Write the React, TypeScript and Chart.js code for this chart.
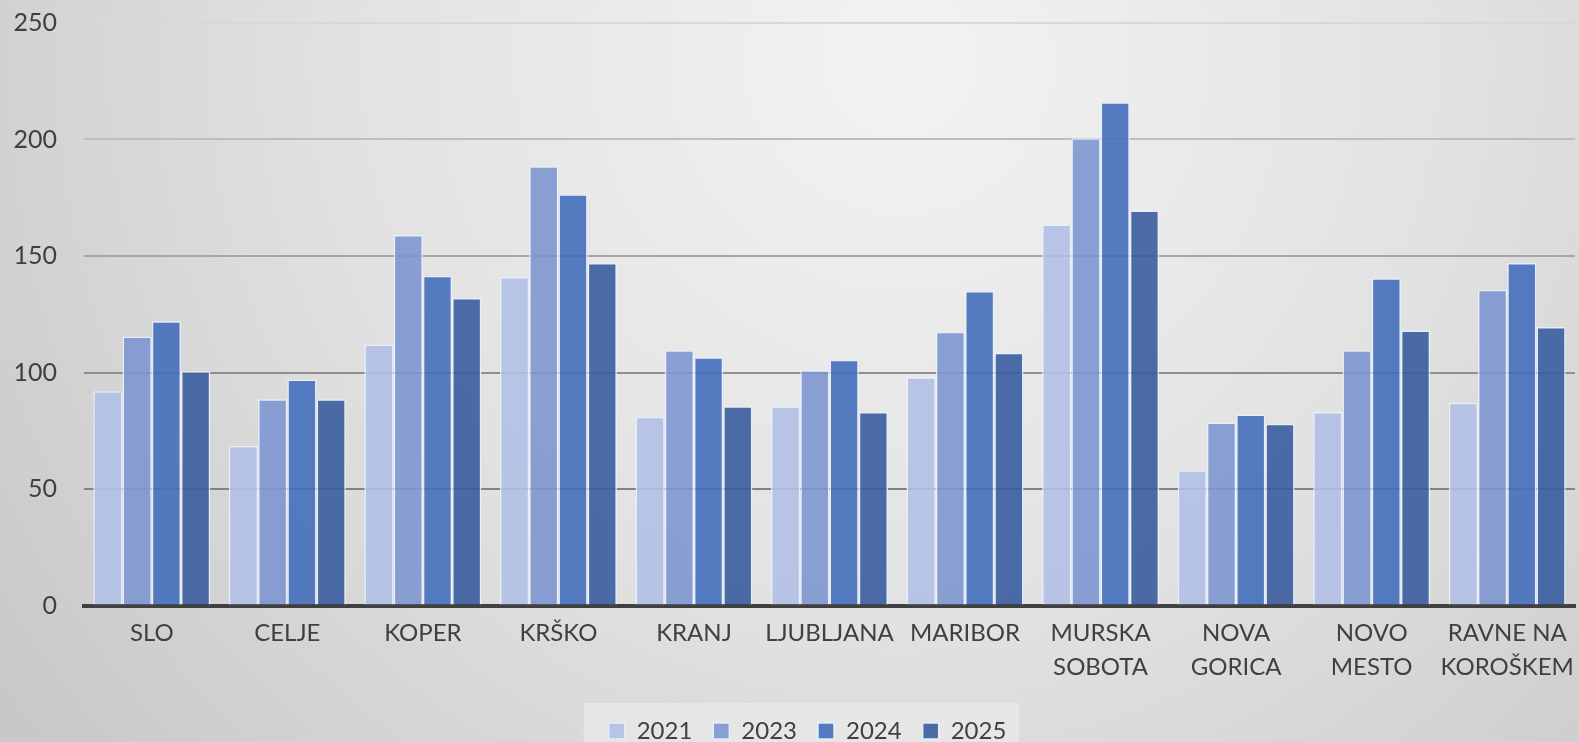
import React, { useEffect, useRef } from "react";
import { Chart, registerables } from "chart.js";

Chart.register(...registerables);

const categories: (string | string[])[] = [
  "SLO",
  "CELJE",
  "KOPER",
  "KRŠKO",
  "KRANJ",
  "LJUBLJANA",
  "MARIBOR",
  ["MURSKA", "SOBOTA"],
  ["NOVA", "GORICA"],
  ["NOVO", "MESTO"],
  ["RAVNE NA", "KOROŠKEM"],
];

const seriesLabels = ["2021", "2023", "2024", "2025"];
const values2021 = [92, 68.5, 112, 141, 81, 85.5, 98, 163.5, 58, 83, 87];
const values2023 = [115.5, 88.5, 159, 188.5, 109.5, 101, 117.5, 200.5, 78.5, 109.5, 135.5];
const values2024 = [122, 97, 141.5, 176.5, 106.5, 105.5, 135, 216, 82, 140.5, 147];
const values2025 = [100.5, 88.5, 132, 147, 85.5, 83, 108.5, 169.5, 78, 118, 119.5];
const yTicks = [0, 50, 100, 150, 200, 250];

const seriesColors = [
  "rgba(178,192,228,0.9)",
  "rgba(126,150,207,0.9)",
  "rgba(68,111,187,0.9)",
  "rgba(57,93,158,0.9)",
];

const gridColors: Record<number, string> = {
  0: "#7a7a7a",
  50: "#828282",
  100: "#8f8f8f",
  150: "#a6a6a6",
  200: "#bdbdbd",
  250: "#d8d8d8",
};

const FONT = "Lato, 'Liberation Sans', sans-serif";
const LEGEND_DX = 20;
const LEGEND_DY = 11;

export default function App() {
  const ref = useRef<HTMLCanvasElement | null>(null);

  useEffect(() => {
    if (!ref.current) return;
    const seriesData = [values2021, values2023, values2024, values2025];

    const bgPlugin = {
      id: "bgPlugin",
      beforeDraw(chart: any) {
        const { ctx, width, height } = chart;
        ctx.save();
        const g = ctx.createRadialGradient(900, 60, 0, 900, 60, 1100);
        g.addColorStop(0, "#f3f3f3");
        g.addColorStop(0.5, "#e2e2e2");
        g.addColorStop(1, "#c8c8c8");
        ctx.fillStyle = g;
        ctx.fillRect(0, 0, width, height);
        const lg = chart.legend;
        if (lg && lg.legendHitBoxes && lg.legendHitBoxes.length) {
          const hb = lg.legendHitBoxes;
          const left = hb[0].left - 25;
          const last = hb[hb.length - 1];
          const right = last.left + last.width + 13;
          const top = 703;
          ctx.fillStyle = "rgba(238,238,238,0.55)";
          ctx.fillRect(left, top, right - left, height - top);
        }
        ctx.restore();
      },
    };

    const legendShift = {
      id: "legendShift",
      afterLayout(chart: any) {
        const lg = chart.legend;
        if (lg) {
          lg.top += LEGEND_DY;
          lg.bottom += LEGEND_DY;
          lg.left += LEGEND_DX;
          lg.right += LEGEND_DX;
        }
      },
    };

    const chart = new Chart(ref.current, {
      type: "bar",
      data: {
        labels: categories as any,
        datasets: seriesLabels.map((label, i) => ({
          label,
          data: seriesData[i],
          backgroundColor: seriesColors[i],
          borderColor: "rgba(232,239,252,0.95)",
          borderWidth: 1.5,
          barPercentage: 1,
          categoryPercentage: 0.863,
        })),
      },
      options: {
        animation: false,
        responsive: true,
        maintainAspectRatio: false,
        layout: { padding: { top: 23, right: 4, left: 0, bottom: 0 } },
        plugins: {
          legend: {
            position: "bottom",
            labels: {
              boxWidth: 16,
              boxHeight: 16,
              padding: 21,
              color: "#404040",
              font: { family: FONT, size: 24 },
            },
          },
          tooltip: { enabled: false },
          title: { display: false },
        },
        scales: {
          x: {
            grid: { display: false, drawTicks: false },
            border: { display: true, color: "#404040", width: 4 },
            ticks: {
              color: "#404040",
              padding: 11,
              maxRotation: 0,
              autoSkip: false,
              font: { family: FONT, size: 24, lineHeight: 1.4 },
            },
            afterFit(scale: any) {
              scale.height = 81.5;
              scale.paddingLeft = 0;
              scale.paddingRight = 0;
            },
          },
          y: {
            min: 0,
            max: 250,
            afterBuildTicks(scale: any) {
              scale.ticks = yTicks.map((v) => ({ value: v }));
            },
            grid: {
              drawTicks: false,
              lineWidth: 2,
              color: (ctx: any) => gridColors[ctx.tick?.value] ?? "#a0a0a0",
            },
            border: { display: false },
            ticks: {
              color: "#404040",
              padding: 27,
              font: { family: FONT, size: 25 },
            },
            afterFit(scale: any) {
              scale.width = 84;
              scale.paddingTop = 0;
              scale.paddingBottom = 0;
            },
          },
        },
      },
      plugins: [bgPlugin, legendShift],
    });
    return () => chart.destroy();
  }, []);

  return (
    <div style={{ position: "fixed", left: 0, top: 0, width: "100vw", height: "100vh" }}>
      <canvas ref={ref} />
    </div>
  );
}
